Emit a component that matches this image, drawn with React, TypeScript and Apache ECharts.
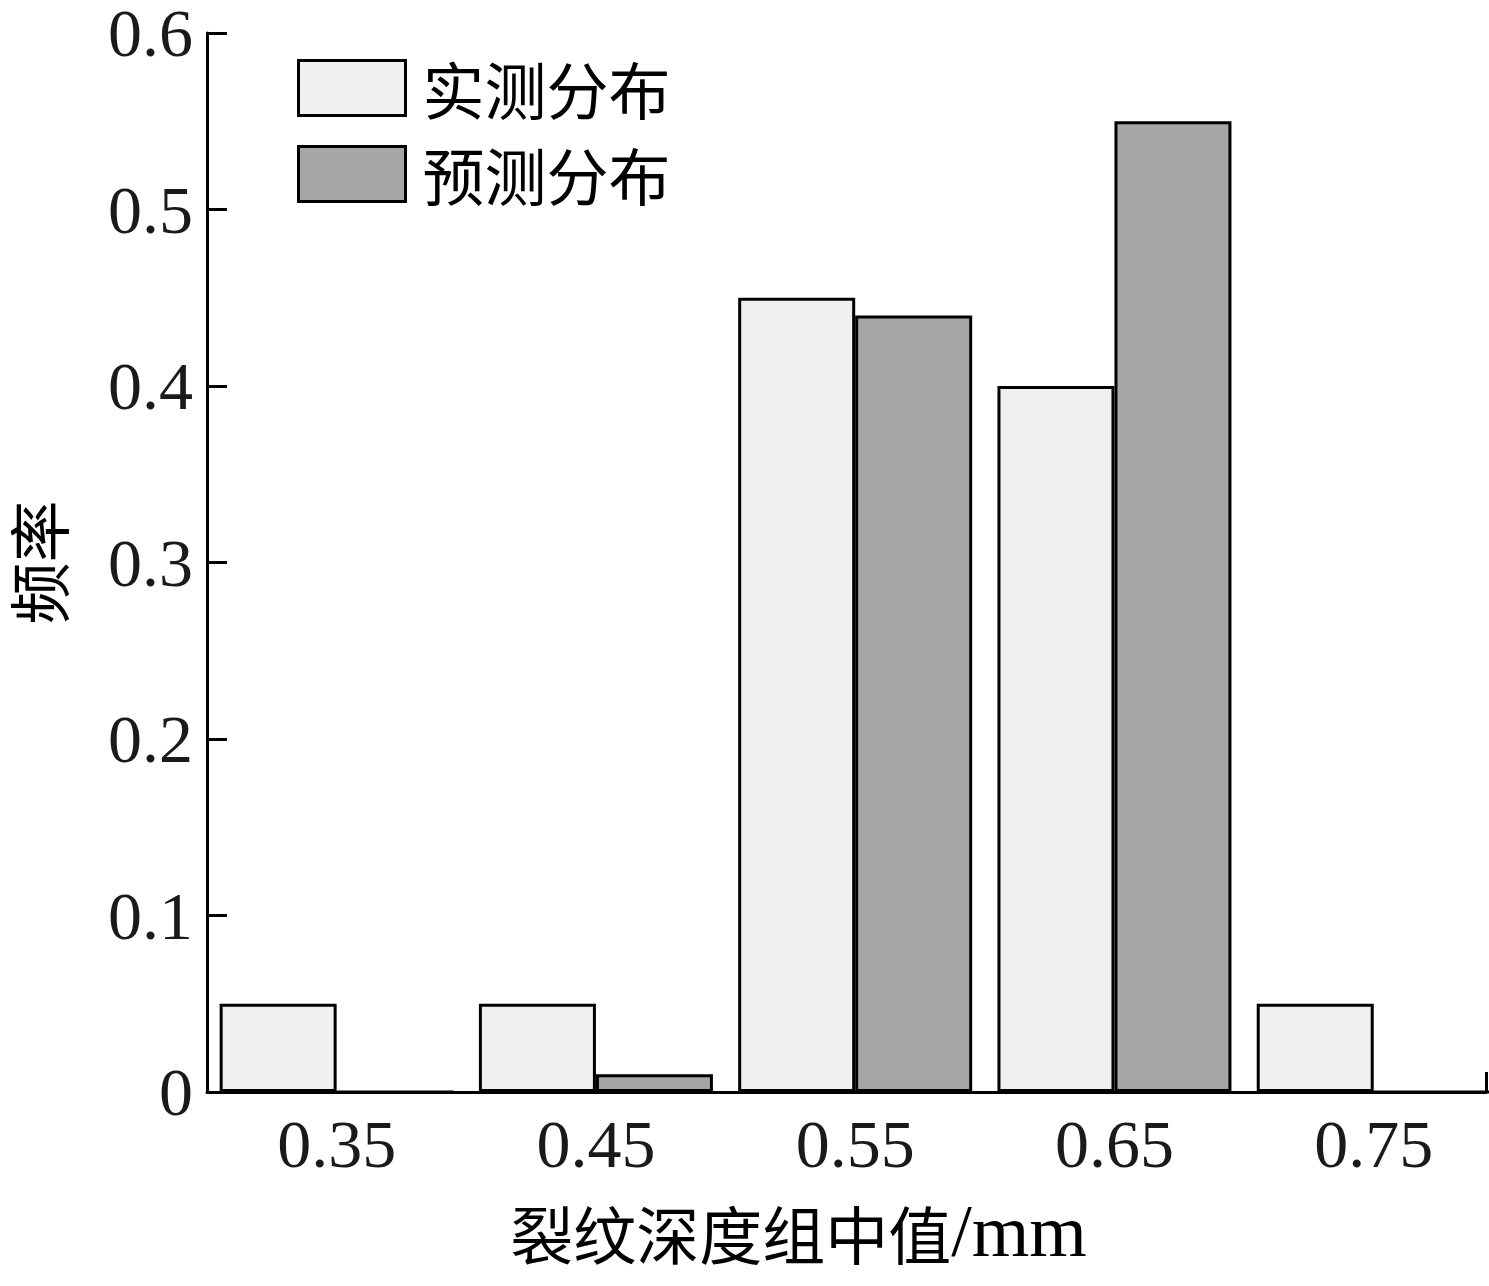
import React, { useEffect, useRef } from "react";
import * as echarts from "echarts";

const xCenters = [0.35, 0.45, 0.55, 0.65, 0.75];
const xTickLabels = ["0.35", "0.45", "0.55", "0.65", "0.75"];
const measured = [0.05, 0.05, 0.45, 0.4, 0.05];
const predicted = [0, 0.01, 0.44, 0.55, 0];
const yTickLabels = ["0", "0.1", "0.2", "0.3", "0.4", "0.5", "0.6"];
const seriesNames = ["实测分布", "预测分布"];
const xName = "裂纹深度组中值";
const xUnit = "/mm";
const yName = "频率";

const SERIF = '"Liberation Serif", "Noto Sans CJK SC", serif';
const CJK = '"Noto Sans CJK SC", "Liberation Serif", sans-serif';

export default function App() {
  const ref = useRef<HTMLDivElement>(null);
  useEffect(() => {
    document.body.style.margin = "0";
    const chart = echarts.init(ref.current!, null, { renderer: "svg" });
    const xMin = 0.3;
    const xMax = 0.7933;
    chart.setOption({
      animation: false,
      backgroundColor: "#ffffff",
      grid: { left: 207, right: 3, top: 33, bottom: 194, containLabel: false, outerBoundsMode: "none" },
      legend: {
        orient: "vertical",
        left: 297,
        top: 57,
        padding: 0,
        itemWidth: 107,
        itemHeight: 55,
        itemGap: 24,
        icon: "rect",
        itemStyle: { borderColor: "#000", borderWidth: 3 },
        textStyle: { fontSize: 62, fontFamily: CJK, color: "#000", padding: [0, 0, 0, 12] },
        data: seriesNames,
      },
      xAxis: {
        type: "value",
        min: xMin,
        max: xMax,
        name: `{c|${xName}}{l|${xUnit}}`,
        nameLocation: "middle",
        nameGap: 102,
        nameTextStyle: {
          color: "#000",
          padding: [0, 96, 0, 0],
          rich: {
            c: { fontSize: 63, fontFamily: CJK, color: "#000" },
            l: { fontSize: 74, fontFamily: SERIF, color: "#000" },
          },
        },
        axisLine: { show: true, onZero: false, lineStyle: { color: "#000", width: 3 } },
        axisTick: { show: true, inside: true, length: 20, customValues: [xMax], lineStyle: { color: "#000", width: 3 } },
        axisLabel: {
          show: true,
          customValues: xCenters,
          fontSize: 68,
          lineHeight: 64,
          fontFamily: SERIF,
          color: "#1a1a1a",
          margin: 20,
          formatter: (v: number) => {
            const i = xCenters.findIndex((c) => Math.abs(c - v) < 1e-6);
            return i >= 0 ? xTickLabels[i] : "";
          },
        },
        splitLine: { show: false },
      },
      yAxis: {
        type: "value",
        min: 0,
        max: 0.6,
        interval: 0.1,
        name: yName,
        nameLocation: "middle",
        nameGap: 142,
        nameTextStyle: { fontSize: 62, lineHeight: 56, fontFamily: CJK, color: "#000" },
        axisLine: { show: true, lineStyle: { color: "#000", width: 3 } },
        axisTick: { show: true, inside: true, length: 20, lineStyle: { color: "#000", width: 3 } },
        axisLabel: {
          fontSize: 68,
          lineHeight: 56,
          fontFamily: SERIF,
          color: "#1a1a1a",
          margin: 14,
          formatter: (v: number) => yTickLabels[Math.round(v * 10)] ?? "",
        },
        splitLine: { show: false },
      },
      series: [
        {
          name: seriesNames[0],
          type: "bar",
          barWidth: 117,
          barGap: "0%",
          data: xCenters.map((x, i) => [x, measured[i]]),
          itemStyle: { color: "#f0f0f0", borderColor: "#000", borderWidth: 3 },
        },
        {
          name: seriesNames[1],
          type: "bar",
          barWidth: 117,
          barGap: "0%",
          data: xCenters.map((x, i) => [x, predicted[i]]),
          itemStyle: { color: "#a6a6a6", borderColor: "#000", borderWidth: 3 },
        },
      ],
    });
    return () => chart.dispose();
  }, []);
  return <div ref={ref} style={{ width: 1489, height: 1286 }} />;
}
